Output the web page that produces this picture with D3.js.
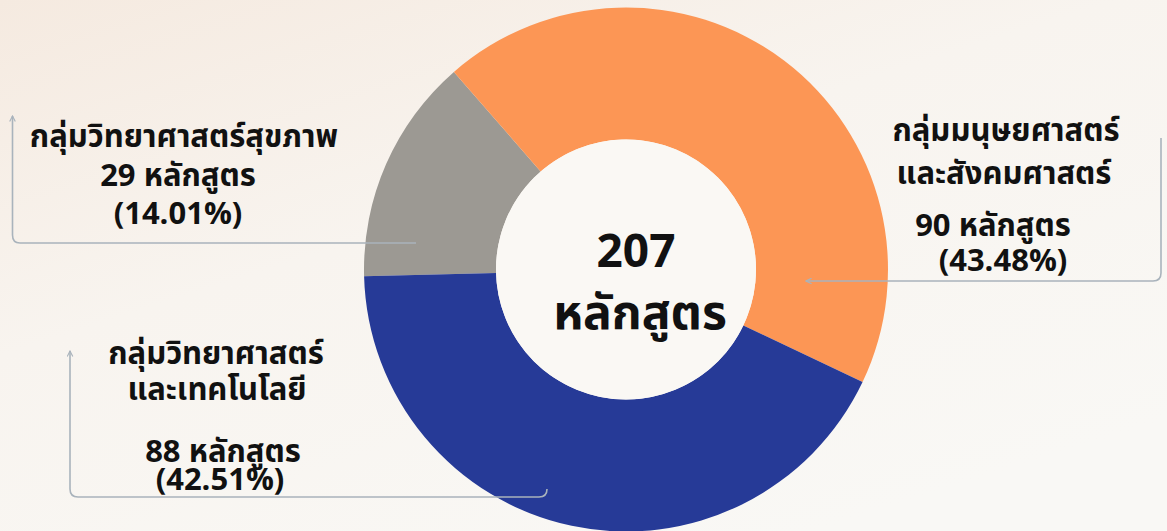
<!DOCTYPE html>
<html>
<head>
<meta charset="utf-8">
<script src="https://cdn.jsdelivr.net/npm/d3@7"></script>
<style>
  html, body { margin: 0; padding: 0; }
  body { width: 1167px; height: 531px; overflow: hidden; }
  svg { display: block; }
  text { font-family: "Noto Sans Thai", "Noto Sans Thai UI", Tahoma, "Noto Sans", sans-serif; font-weight: bold; fill: #111; }
</style>
</head>
<body>
<svg id="chart" width="1167" height="531"></svg>
<script>
// chart data
const categories = ['วิทยาศาสตร์สุขภาพ', 'มนุษยศาสตร์และสังคมศาสตร์', 'วิทยาศาสตร์และเทคโนโลยี'];
const labelLines = [
  ['กลุ่มวิทยาศาสตร์สุขภาพ'],
  ['กลุ่มมนุษยศาสตร์', 'และสังคมศาสตร์'],
  ['กลุ่มวิทยาศาสตร์', 'และเทคโนโลยี']
];
const counts = [29, 90, 88];
const unit = 'หลักสูตร';
const sliceColors = ['#9c9993', '#fc9655', '#263a97'];

const width = 1167, height = 531;
const cx = 626, cy = 269.5;
const outerR = 262, innerR = 130;

const svg = d3.select('#chart');
const defs = svg.append('defs');

// background
const bg = defs.append('linearGradient').attr('id', 'bg')
  .attr('x1', '0%').attr('y1', '0%').attr('x2', '70%').attr('y2', '100%');
bg.append('stop').attr('offset', '0%').attr('stop-color', '#f5eae0');
bg.append('stop').attr('offset', '45%').attr('stop-color', '#f8f4ef');
bg.append('stop').attr('offset', '100%').attr('stop-color', '#f9f8f5');
svg.append('rect').attr('width', width).attr('height', height).attr('fill', 'url(#bg)');

// arrow marker for connectors
defs.append('marker')
  .attr('id', 'arrow')
  .attr('viewBox', '0 0 10 10')
  .attr('refX', 9).attr('refY', 5)
  .attr('markerWidth', 7).attr('markerHeight', 7)
  .attr('markerUnits', 'userSpaceOnUse')
  .attr('orient', 'auto')
  .append('path')
  .attr('d', 'M1,1 L9,5 L1,9')
  .attr('fill', 'none')
  .attr('stroke', '#a9b3bc')
  .attr('stroke-width', 1.6);

const total = d3.sum(counts);
const pct = d3.format('.2%');
const data = counts.map((v, i) => ({name: categories[i], value: v, i: i}));

const off = -1.5 * Math.PI / 180;
const pie = d3.pie().sort(null).value(d => d.value)
  .startAngle(-Math.PI / 2 + off).endAngle(1.5 * Math.PI + off);
const arc = d3.arc().innerRadius(innerR).outerRadius(outerR);

const g = svg.append('g').attr('transform', `translate(${cx},${cy})`);
g.selectAll('path')
  .data(pie(data))
  .enter()
  .append('path')
  .attr('d', arc)
  .attr('fill', d => sliceColors[d.data.i]);

// hole
g.append('circle').attr('r', innerR).attr('fill', '#faf8f4');

// centre total
svg.append('text')
  .attr('x', 636).attr('y', 267)
  .attr('text-anchor', 'middle')
  .style('font-size', '46px')
  .text(total);
svg.append('text')
  .attr('x', 640).attr('y', 329)
  .attr('text-anchor', 'middle')
  .style('font-size', '48px')
  .text(unit);

// connectors (rounded corners, arrow at the label end)
const connectors = [
  'M416,243 L20,243 Q12.5,243 12.5,235 L12.5,116',
  'M547,489 Q547,497 539,497 L78,497 Q70,497 70,489 L70,351',
  'M1161,138 L1161,273 Q1161,281 1153,281 L806,281'
];
svg.append('g').selectAll('path')
  .data(connectors)
  .enter()
  .append('path')
  .attr('d', d => d)
  .attr('fill', 'none')
  .attr('stroke', '#a9b3bc')
  .attr('stroke-width', 1.6)
  .attr('marker-end', 'url(#arrow)');

// label line positions: [x, baseline] per line
const labelPos = [
  [[184, 147], [178, 186], [178, 224]],
  [[1006, 141], [1004, 184], [993, 236], [1003, 271]],
  [[216, 364], [217, 400], [223, 462], [220, 490]]
];
data.forEach((d, i) => {
  const lines = labelLines[i].concat([`${d.value} ${unit}`, `(${pct(d.value / total)})`]);
  lines.forEach((l, k) => {
    svg.append('text')
      .attr('x', labelPos[i][k][0])
      .attr('y', labelPos[i][k][1])
      .attr('text-anchor', 'middle')
      .style('font-size', '31px')
      .text(l);
  });
});
</script>
</body>
</html>
